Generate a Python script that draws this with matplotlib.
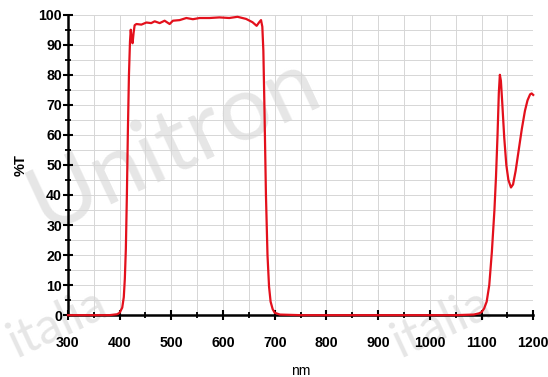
import matplotlib
matplotlib.use("Agg")
import matplotlib.pyplot as plt
from matplotlib.ticker import MultipleLocator

# transmission curve
wavelength = [300, 380, 395, 400, 405, 408, 410, 412, 414, 416, 418, 420, 421.5, 423,
              425, 427, 429, 432.5, 442, 451.7, 461, 467.8, 477.4, 487, 496.7, 503,
              516, 529, 541.7, 554.6, 574, 593, 612, 628, 644.6, 657, 665, 670,
              673.5, 676, 678, 680, 683, 686, 689, 692, 696, 700, 710, 750, 900,
              1050, 1085, 1095, 1100, 1105, 1110, 1115, 1120, 1125, 1128, 1131,
              1133.5, 1135.5, 1137.5, 1140, 1144, 1148, 1152, 1157, 1161, 1166,
              1172, 1178, 1184, 1189, 1194, 1197, 1200]
transmission = [0, 0, 0.3, 0.8, 2.5, 6, 12, 22, 40, 62, 80, 91, 95, 92,
                90.5, 94, 96.5, 96.9, 96.7, 97.4, 97.2, 97.8, 97.2, 98, 96.9, 98,
                98.2, 98.9, 98.5, 98.9, 98.9, 99.1, 98.9, 99.3, 98.6, 97.5, 96.3, 97.5,
                98.2, 96, 88, 70, 40, 20, 9.5, 4.5, 2, 0.8, 0.2, 0, 0,
                0, 0.2, 0.6, 1, 2.2, 4.5, 10, 21, 35, 46, 60,
                74, 80, 78, 71, 59, 50, 45, 42.5, 43.5, 48,
                55, 62, 68, 71.5, 73.5, 73.8, 73.3]

fig = plt.figure(figsize=(5.48, 3.77), dpi=100)
ax = fig.add_axes([0.124, 0.164, 0.849, 0.797])
ax.set_facecolor("none")

# faint watermark behind the plot
wm = dict(color="#e6e6e6", rotation=25, rotation_mode="anchor", ha="left",
          va="baseline", zorder=-5, family="Lato")
fig.text(0.08, 1 - 232 / 377, "Unitron", fontsize=66, **wm)
fig.text(0.03, 0.05, "italia", fontsize=36, **wm)
fig.text(0.73, 0.05, "italia", fontsize=36, **wm)

ax.plot(wavelength, transmission, color="#e3101c", lw=1.6, zorder=3, clip_on=False)

ax.set_xlim(300, 1200)
ax.set_ylim(0, 100)
ax.xaxis.set_major_locator(MultipleLocator(100))
ax.xaxis.set_minor_locator(MultipleLocator(50))
ax.yaxis.set_major_locator(MultipleLocator(10))
ax.yaxis.set_minor_locator(MultipleLocator(5))

ax.grid(which="both", color="#d6d6d6", lw=0.7)
ax.set_axisbelow(True)

for s in ["top", "right"]:
    ax.spines[s].set_visible(False)
for s in ["left", "bottom"]:
    ax.spines[s].set_linewidth(1.8)
    ax.spines[s].set_zorder(2)

ax.tick_params(which="major", direction="inout", length=7.5, width=1.5, color="black")
ax.tick_params(which="minor", direction="inout", length=5, width=1.3, color="black")
ax.tick_params(axis="y", which="major", pad=0.5)
ax.tick_params(axis="x", which="major", pad=11)

for lab in ax.get_xticklabels() + ax.get_yticklabels():
    lab.set_family("Liberation Sans")
    lab.set_fontweight("bold")
    lab.set_fontsize(10.2)

ax.set_xlabel("nm", family="Liberation Sans", fontsize=10, labelpad=10)
ax.set_ylabel("%T", family="Liberation Sans", fontsize=10.5, fontweight="bold", labelpad=8)

fig.savefig("out.png", dpi=100)
